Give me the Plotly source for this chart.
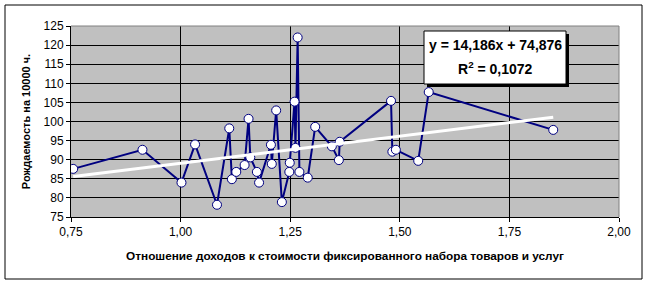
import plotly.graph_objects as go

# Data
income_ratio = [0.755, 0.913, 1.002, 1.033, 1.083, 1.111, 1.117, 1.127, 1.146, 1.155,
                1.159, 1.174, 1.179, 1.206, 1.208, 1.218, 1.231, 1.248, 1.249, 1.260,
                1.262, 1.267, 1.271, 1.290, 1.307, 1.345, 1.361, 1.363, 1.480, 1.483,
                1.491, 1.542, 1.566, 1.850]
birth_rate = [87.6, 92.6, 84.0, 94.0, 78.2, 98.2, 84.9, 86.8, 88.6, 100.7,
              90.6, 86.8, 84.0, 93.9, 88.9, 102.9, 78.9, 86.8, 89.2, 105.2,
              93.1, 122.0, 86.8, 85.3, 98.6, 93.5, 89.9, 94.7, 105.4, 92.1,
              92.6, 89.7, 107.7, 97.8]

trend_slope = 14.186
trend_intercept = 74.876
trend_r2 = "0,1072"

x_ticks = [0.75, 1.00, 1.25, 1.50, 1.75, 2.00]
y_ticks = [75, 80, 85, 90, 95, 100, 105, 110, 115, 120, 125]

x_title = "Отношение доходов к стоимости фиксированного набора товаров и услуг"
y_title = "Рождаемость на 10000 ч."

W, H = 649, 285
L, R, T, B = 71, 30, 26, 68

trend_x = [min(income_ratio), max(income_ratio)]
trend_y = [trend_slope * v + trend_intercept for v in trend_x]

fig = go.Figure()
fig.add_trace(go.Scatter(
    x=income_ratio, y=birth_rate, mode="lines+markers",
    line=dict(color="#000080", width=2),
    marker=dict(size=9, color="white", line=dict(color="#000080", width=1)),
    hoverinfo="x+y", showlegend=False,
))
fig.add_trace(go.Scatter(
    x=trend_x, y=trend_y, mode="lines",
    line=dict(color="white", width=3), showlegend=False, hoverinfo="skip",
))

font_family = "Liberation Sans, Arial, sans-serif"

fig.update_layout(
    width=W, height=H,
    margin=dict(l=L, r=R, t=T, b=B, pad=0),
    paper_bgcolor="white", plot_bgcolor="#C0C0C0",
    separators=", ",
    font=dict(family=font_family, size=12, color="black"),
    xaxis=dict(
        range=[0.75, 2.0], tickvals=x_ticks, tickformat=".2f",
        showgrid=True, gridcolor="black", gridwidth=1,
        showline=True, linecolor="black", linewidth=1,
        ticks="outside", ticklen=4, tickcolor="black",
        zeroline=False, fixedrange=True,
        title=dict(text=f"<b>{x_title}</b>", font=dict(size=11.8), standoff=13),
    ),
    yaxis=dict(
        range=[75, 125], tickvals=y_ticks,
        showgrid=True, gridcolor="black", gridwidth=1,
        showline=True, linecolor="black", linewidth=1,
        ticks="outside", ticklen=4, tickcolor="black",
        zeroline=False, fixedrange=True,
        title=dict(text=f"<b>{y_title}</b>", font=dict(size=11), standoff=10),
    ),
    shapes=[
        # plot area border (top/right grey)
        dict(type="line", xref="paper", yref="paper", x0=0, x1=1, y0=1, y1=1,
             line=dict(color="#808080", width=1), layer="above"),
        dict(type="line", xref="paper", yref="paper", x0=1, x1=1, y0=0, y1=1,
             line=dict(color="#808080", width=1), layer="above"),
        # chart outer border
        dict(type="rect", xref="paper", yref="paper",
             x0=(5 - L) / (W - L - R), x1=(642 - L) / (W - L - R),
             y0=(H - B - 279) / (H - T - B), y1=(H - B - 5) / (H - T - B),
             line=dict(color="black", width=1), layer="below"),
        # equation box shadow
        dict(type="rect", xref="paper", yref="paper",
             x0=(427 - L) / (W - L - R), x1=(569 - L) / (W - L - R),
             y0=(H - B - 87) / (H - T - B), y1=(H - B - 34) / (H - T - B),
             line=dict(width=0), fillcolor="black", layer="above"),
        # equation box
        dict(type="rect", xref="paper", yref="paper",
             x0=(424 - L) / (W - L - R), x1=(566 - L) / (W - L - R),
             y0=(H - B - 84) / (H - T - B), y1=(H - B - 31) / (H - T - B),
             line=dict(color="black", width=1), fillcolor="white", layer="above"),
    ],
    annotations=[
        dict(xref="paper", yref="paper",
             x=(495 - L) / (W - L - R), y=(H - B - 45) / (H - T - B),
             text=f"<b>y = {trend_slope:.3f}x + {trend_intercept:.3f}</b>".replace(".", ","),
             showarrow=False, font=dict(size=14), xanchor="center", yanchor="middle"),
        dict(xref="paper", yref="paper",
             x=(495 - L) / (W - L - R), y=(H - B - 68) / (H - T - B),
             text=f"<b>R<sup>2</sup> = {trend_r2}</b>",
             showarrow=False, font=dict(size=14), xanchor="center", yanchor="middle"),
    ],
)

fig.write_html("out.html")
